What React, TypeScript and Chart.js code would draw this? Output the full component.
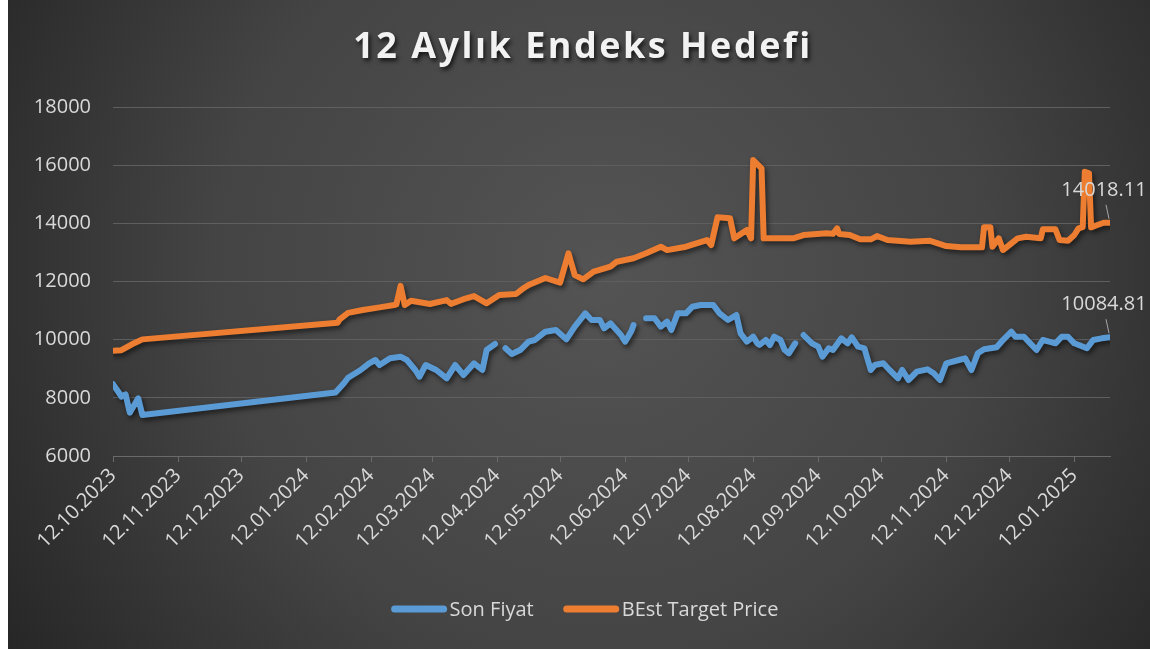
import React, { useEffect, useRef } from "react";
import { Chart, registerables } from "chart.js";

Chart.register(...registerables);

const chartTitle = "12 Aylık Endeks Hedefi";
const seriesNames = ["Son Fiyat", "BEst Target Price"];

const tickDates = [
  "12.10.2023", "12.11.2023", "12.12.2023", "12.01.2024", "12.02.2024", "12.03.2024",
  "12.04.2024", "12.05.2024", "12.06.2024", "12.07.2024", "12.08.2024", "12.09.2024",
  "12.10.2024", "12.11.2024", "12.12.2024", "12.01.2025",
];
const firstDate = "12.10.2023";
const lastDate = "29.01.2025";

const orangeDates = [
  "12.10.2023", "16.10.2023", "21.10.2023", "26.10.2023", "27.01.2024", "28.01.2024",
  "01.02.2024", "08.02.2024", "16.02.2024", "23.02.2024", "24.02.2024", "26.02.2024",
  "28.02.2024", "02.03.2024", "11.03.2024", "19.03.2024", "21.03.2024", "27.03.2024",
  "01.04.2024", "07.04.2024", "13.04.2024", "21.04.2024", "24.04.2024", "27.04.2024",
  "05.05.2024", "12.05.2024", "16.05.2024", "19.05.2024", "23.05.2024", "28.05.2024",
  "05.06.2024", "08.06.2024", "16.06.2024", "22.06.2024", "29.06.2024", "02.07.2024",
  "11.07.2024", "21.07.2024", "23.07.2024", "26.07.2024", "01.08.2024", "03.08.2024",
  "09.08.2024", "11.08.2024", "12.08.2024", "16.08.2024", "17.08.2024", "31.08.2024",
  "05.09.2024", "16.09.2024", "19.09.2024", "21.09.2024", "22.09.2024", "27.09.2024",
  "02.10.2024", "07.10.2024", "10.10.2024", "15.10.2024", "26.10.2024", "04.11.2024",
  "12.11.2024", "19.11.2024", "29.11.2024", "30.11.2024", "03.12.2024", "04.12.2024",
  "07.12.2024", "09.12.2024", "16.12.2024", "20.12.2024", "27.12.2024", "28.12.2024",
  "03.01.2025", "05.01.2025", "09.01.2025", "12.01.2025", "14.01.2025", "16.01.2025",
  "17.01.2025", "19.01.2025", "20.01.2025", "23.01.2025", "26.01.2025", "29.01.2025",
];
const orangeValues = [
  9620, 9640, 9840, 10010, 10583, 10700,
  10920, 11020, 11110, 11190, 11210, 11850,
  11190, 11340, 11226, 11360, 11230, 11390,
  11500, 11250, 11535, 11570, 11740, 11880,
  12120, 11960, 12970, 12220, 12075, 12340,
  12510, 12680, 12800, 12970, 13196, 13080,
  13196, 13426, 13254, 14206, 14171, 13484,
  13770, 13484, 16176, 15891, 13484, 13484,
  13598, 13655, 13640, 13827, 13632, 13598,
  13450, 13450, 13563, 13426, 13368, 13403,
  13220, 13175, 13175, 13862, 13862, 13196,
  13484, 13082, 13484, 13540, 13484, 13793,
  13793, 13426, 13403, 13598, 13827, 13870,
  15775, 15720, 13862, 13941, 14021, 14018.11,
];

const blueDates = [
  "12.10.2023", "15.10.2023", "16.10.2023", "18.10.2023", "20.10.2023", "24.10.2023",
  "26.10.2023", "26.01.2024", "30.01.2024", "01.02.2024", "07.02.2024", "11.02.2024",
  "14.02.2024", "16.02.2024", "21.02.2024", "26.02.2024", "29.02.2024", "04.03.2024",
  "06.03.2024", "09.03.2024", "14.03.2024", "19.03.2024", "23.03.2024", "27.03.2024",
  "01.04.2024", "05.04.2024", "07.04.2024", "11.04.2024", "14.04.2024", "16.04.2024",
  "19.04.2024", "23.04.2024", "27.04.2024", "30.04.2024", "05.05.2024", "10.05.2024",
  "15.05.2024", "19.05.2024", "24.05.2024", "27.05.2024", "31.05.2024", "02.06.2024",
  "05.06.2024", "10.06.2024", "12.06.2024", "15.06.2024", "16.06.2024", "19.06.2024",
  "22.06.2024", "26.06.2024", "29.06.2024", "02.07.2024", "04.07.2024", "07.07.2024",
  "11.07.2024", "14.07.2024", "18.07.2024", "24.07.2024", "27.07.2024", "31.07.2024",
  "04.08.2024", "06.08.2024", "09.08.2024", "12.08.2024", "14.08.2024", "15.08.2024",
  "18.08.2024", "20.08.2024", "22.08.2024", "25.08.2024", "27.08.2024", "29.08.2024",
  "01.09.2024", "03.09.2024", "05.09.2024", "09.09.2024", "12.09.2024", "14.09.2024",
  "17.09.2024", "19.09.2024", "23.09.2024", "26.09.2024", "28.09.2024", "01.10.2024",
  "04.10.2024", "07.10.2024", "09.10.2024", "13.10.2024", "16.10.2024", "20.10.2024",
  "22.10.2024", "25.10.2024", "29.10.2024", "03.11.2024", "06.11.2024", "09.11.2024",
  "12.11.2024", "18.11.2024", "21.11.2024", "24.11.2024", "27.11.2024", "30.11.2024",
  "06.12.2024", "09.12.2024", "13.12.2024", "15.12.2024", "19.12.2024", "22.12.2024",
  "25.12.2024", "28.12.2024", "31.12.2024", "03.01.2025", "06.01.2025", "09.01.2025",
  "12.01.2025", "18.01.2025", "21.01.2025", "25.01.2025", "29.01.2025",
];
const blueValues: (number | null)[] = [
  8470, 8156, 8040, 8120, 7490, 7984,
  7410, 8180, 8500, 8690, 8957, 9187,
  9300, 9128, 9359, 9414, 9300, 8957,
  8726, 9128, 8957, 8670, 9128, 8785,
  9187, 8957, 9644, 9850, null, 9703,
  9507, 9644, 9930, 9988, 10273, 10332,
  10011, 10446, 10906, 10676, 10676, 10390,
  10562, 10160, 9930, 10300, 10504, null,
  10734, 10734, 10446, 10618, 10332, 10906,
  10906, 11133, 11191, 11191, 10906, 10676,
  10848, 10218, 9930, 10102, 9874, 9816,
  9988, 9816, 10102, 9988, 9644, 9530,
  9874, null, 10160, 9874, 9758, 9414,
  9703, 9644, 10046, 9874, 10080, 9758,
  9703, 8957, 9128, 9187, 8957, 8670,
  8957, 8613, 8899, 8981, 8843, 8613,
  9187, 9300, 9359, 8957, 9530, 9668,
  9737, 9988, 10273, 10102, 10102, 9874,
  9644, 9988, 9930, 9874, 10102, 10102,
  9874, 9703, 9988, 10046, 10084.81,
];

const BLUE = "#5B9BD5";
const ORANGE = "#ED7D31";
const TEXT = "#d9d9d9";
const FONT = "'Open Sans', 'DejaVu Sans', sans-serif";

const dayOf = (s: string) => {
  const [d, m, y] = s.split(".").map(Number);
  return Math.round((Date.UTC(y, m - 1, d) - Date.UTC(2023, 9, 12)) / 86400000);
};

const toPoints = (dates: string[], values: (number | null)[]) =>
  dates.map((d, i) => ({ x: dayOf(d), y: values[i] }));

const bgPlugin = {
  id: "bg",
  beforeDraw(chart: any) {
    const { ctx, width, height } = chart;
    ctx.save();
    const g = ctx.createRadialGradient(width * 0.52, height * 0.42, 0, width * 0.52, height * 0.42, width * 0.62);
    g.addColorStop(0, "#545454");
    g.addColorStop(0.55, "#444444");
    g.addColorStop(1, "#262626");
    ctx.fillStyle = g;
    ctx.fillRect(0, 0, width, height);
    ctx.restore();
  },
};

const shadowPlugin = {
  id: "lineShadow",
  beforeDatasetsDraw(chart: any) {
    const ctx = chart.ctx;
    ctx.save();
    ctx.shadowColor = "rgba(0,0,0,0.55)";
    ctx.shadowBlur = 5;
    ctx.shadowOffsetX = 2;
    ctx.shadowOffsetY = 3;
  },
  afterDatasetsDraw(chart: any) {
    chart.ctx.restore();
  },
};

const decorPlugin = {
  id: "decor",
  afterDraw(chart: any) {
    const ctx = chart.ctx as CanvasRenderingContext2D;
    // title
    ctx.save();
    ctx.font = `bold 36px ${FONT}`;
    (ctx as any).letterSpacing = "2.5px";
    ctx.textAlign = "center";
    ctx.textBaseline = "middle";
    ctx.shadowColor = "rgba(0,0,0,0.7)";
    ctx.shadowBlur = 4;
    ctx.shadowOffsetX = 2;
    ctx.shadowOffsetY = 3;
    ctx.fillStyle = "#f2f2f2";
    ctx.fillText(chartTitle, 575, 48);
    ctx.restore();

    // last value labels
    ctx.save();
    ctx.font = `20px ${FONT}`;
    ctx.textAlign = "center";
    ctx.textBaseline = "middle";
    chart.data.datasets.forEach((ds: any, i: number) => {
      const meta = chart.getDatasetMeta(i);
      const pt = meta.data[meta.data.length - 1];
      const val = ds.data[ds.data.length - 1].y;
      ctx.strokeStyle = "#a6a6a6";
      ctx.lineWidth = 1;
      ctx.beginPath();
      ctx.moveTo(pt.x - 4, pt.y - 18);
      ctx.lineTo(pt.x - 1, pt.y - 4);
      ctx.stroke();
      ctx.fillStyle = TEXT;
      ctx.fillText(String(val), pt.x - 6, pt.y - 33);
    });
    ctx.restore();

    // legend
    ctx.save();
    ctx.font = `20px ${FONT}`;
    ctx.textBaseline = "middle";
    const colors = [BLUE, ORANGE];
    const sample = 55, gapText = 3, gapItem = 30;
    const widths = seriesNames.map((n) => ctx.measureText(n).width);
    const total = widths.reduce((a, w) => a + sample + gapText + w, 0) + gapItem;
    let x = 577 - total / 2;
    const y = 609;
    seriesNames.forEach((n, i) => {
      ctx.strokeStyle = colors[i];
      ctx.lineWidth = 7;
      ctx.lineCap = "round";
      ctx.beginPath();
      ctx.moveTo(x + 3, y);
      ctx.lineTo(x + sample - 3, y);
      ctx.stroke();
      ctx.fillStyle = TEXT;
      ctx.fillText(n, x + sample + gapText, y + 1);
      x += sample + gapText + widths[i] + gapItem;
    });
    ctx.restore();
  },
};

export default function App() {
  const ref = useRef<HTMLCanvasElement | null>(null);
  useEffect(() => {
    if (!ref.current) return;
    const tickValues = tickDates.map(dayOf);
    const chart = new Chart(ref.current, {
      type: "line",
      data: {
        datasets: [
          {
            label: seriesNames[0],
            data: toPoints(blueDates, blueValues) as any,
            borderColor: BLUE,
            backgroundColor: BLUE,
            borderWidth: 6,
            pointRadius: 0,
            borderCapStyle: "round",
            borderJoinStyle: "round",
            spanGaps: false,
            tension: 0,
          },
          {
            label: seriesNames[1],
            data: toPoints(orangeDates, orangeValues) as any,
            borderColor: ORANGE,
            backgroundColor: ORANGE,
            borderWidth: 6,
            pointRadius: 0,
            borderCapStyle: "round",
            borderJoinStyle: "round",
            tension: 0,
          },
        ],
      },
      options: {
        animation: false,
        responsive: true,
        maintainAspectRatio: false,
        layout: { padding: { top: 107, left: 0, right: 40, bottom: 80 } },
        plugins: {
          legend: { display: false },
          title: { display: false },
          tooltip: { enabled: false },
        },
        scales: {
          x: {
            type: "linear",
            min: dayOf(firstDate),
            max: dayOf(lastDate),
            afterBuildTicks: (scale: any) => {
              scale.ticks = tickValues.map((v) => ({ value: v }));
            },
            afterFit: (scale: any) => {
              scale.height = 113;
            },
            ticks: {
              autoSkip: false,
              minRotation: 45,
              maxRotation: 45,
              padding: 2,
              color: TEXT,
              font: { family: FONT, size: 20 },
              callback: (v: any) => {
                const idx = tickValues.indexOf(Number(v));
                return idx >= 0 ? tickDates[idx] : "";
              },
            },
            grid: {
              drawOnChartArea: false,
              drawTicks: true,
              tickLength: 6,
              color: "#6a6a6a",
            },
            border: { display: true, color: "#6a6a6a", width: 1 },
          },
          y: {
            min: 6000,
            max: 18000,
            afterFit: (scale: any) => {
              scale.width = 105;
            },
            ticks: {
              stepSize: 2000,
              padding: 22,
              color: TEXT,
              font: { family: FONT, size: 20 },
              callback: (v: any) => String(v),
            },
            grid: { color: "#5f5f5f", drawTicks: false, lineWidth: 1 },
            border: { display: false },
          },
        },
      },
      plugins: [bgPlugin, shadowPlugin, decorPlugin],
    });
    return () => chart.destroy();
  }, []);

  return (
    <div style={{ position: "fixed", left: 8, top: 0, width: 1142, height: 649 }}>
      <canvas ref={ref} />
    </div>
  );
}
